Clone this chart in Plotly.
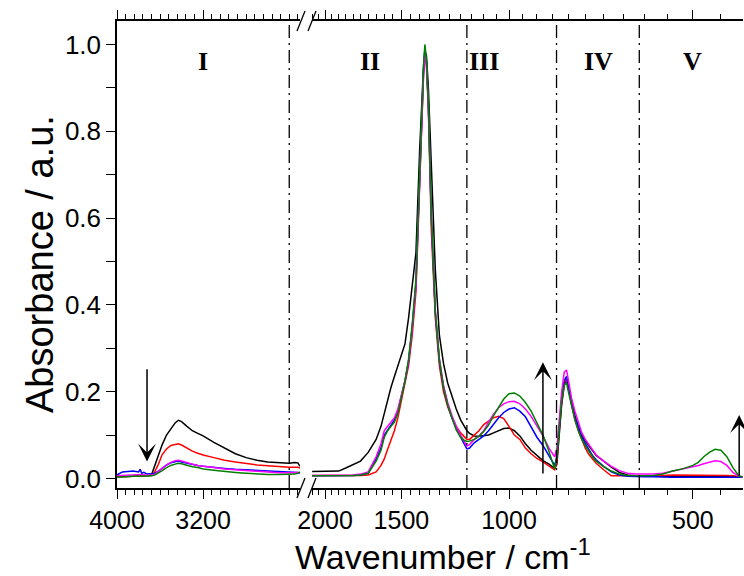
import math
import plotly.graph_objects as go

# ---------------- data ----------------
NU_L = [4000, 3950, 3900, 3850, 3800, 3785, 3770, 3750,
        3720, 3700, 3680, 3650, 3620, 3580, 3540, 3500,
        3460, 3430, 3400, 3350, 3300, 3250, 3200, 3100,
        3000, 2900, 2800, 2700, 2600, 2500, 2400, 2350,
        2320, 2300]

BLACK_L = [0.004, 0.004, 0.005, 0.005, 0.006, 0.007, 0.006, 0.006,
           0.006, 0.007, 0.008, 0.030, 0.053, 0.078, 0.100, 0.115,
           0.128, 0.134, 0.131, 0.120, 0.110, 0.104, 0.098, 0.083,
           0.069, 0.057, 0.048, 0.042, 0.038, 0.036, 0.035, 0.037,
           0.036, 0.028]
RED_L = [0.004, 0.004, 0.005, 0.005, 0.006, 0.007, 0.006, 0.006,
         0.006, 0.006, 0.007, 0.015, 0.030, 0.055, 0.068, 0.076,
         0.079, 0.080, 0.077, 0.070, 0.063, 0.058, 0.054, 0.048,
         0.042, 0.038, 0.034, 0.031, 0.029, 0.027, 0.026, 0.026,
         0.026, 0.024]
BLUE_L = [0.008, 0.015, 0.016, 0.017, 0.015, 0.021, 0.012, 0.014,
          0.010, 0.011, 0.010, 0.012, 0.016, 0.024, 0.031, 0.036,
          0.039, 0.040, 0.038, 0.035, 0.032, 0.030, 0.028, 0.025,
          0.023, 0.021, 0.020, 0.019, 0.018, 0.017, 0.016, 0.015,
          0.014, 0.012]
MAGENTA_L = [0.006, 0.007, 0.008, 0.008, 0.009, 0.010, 0.009, 0.008,
             0.008, 0.008, 0.008, 0.010, 0.015, 0.023, 0.031, 0.037,
             0.041, 0.042, 0.040, 0.036, 0.033, 0.030, 0.028, 0.025,
             0.022, 0.020, 0.018, 0.016, 0.014, 0.013, 0.013, 0.013,
             0.013, 0.014]
GREEN_L = [0.003, 0.004, 0.004, 0.005, 0.005, 0.006, 0.005, 0.005,
           0.005, 0.006, 0.006, 0.008, 0.012, 0.018, 0.025, 0.030,
           0.033, 0.035, 0.034, 0.030, 0.027, 0.025, 0.022, 0.019,
           0.016, 0.014, 0.012, 0.010, 0.009, 0.009, 0.009, 0.010,
           0.012, 0.015]

NU_R = [2100, 2000, 1900, 1850, 1800, 1750, 1700,
        1650, 1620, 1600, 1580, 1560, 1540, 1520, 1500,
        1480, 1460, 1440, 1420, 1400, 1390, 1380, 1373,
        1365, 1355, 1340, 1320, 1300, 1280, 1260, 1240,
        1220, 1200, 1185, 1172, 1160, 1140, 1120, 1100,
        1080, 1060, 1040, 1020, 1000, 980, 960, 940,
        920, 900, 880, 860, 850, 842, 835, 828,
        820, 812, 805, 798, 790, 780, 770, 760,
        750, 740, 730, 720, 700, 680, 660, 640,
        620, 600, 580, 560, 540, 520, 500, 490,
        480, 470, 460, 450, 440, 430, 420, 415]

BLACK_R = [0.016, 0.016, 0.017, 0.024, 0.032, 0.040, 0.060,
           0.090, 0.120, 0.150, 0.180, 0.210, 0.235, 0.260, 0.280,
           0.310, 0.370, 0.440, 0.520, 0.760, 0.870, 0.950, 0.985,
           0.975, 0.900, 0.700, 0.480, 0.330, 0.265, 0.220, 0.190,
           0.160, 0.135, 0.120, 0.110, 0.104, 0.098, 0.097, 0.098,
           0.100, 0.105, 0.110, 0.115, 0.116, 0.110, 0.098, 0.080,
           0.065, 0.053, 0.041, 0.033, 0.028, 0.023, 0.032, 0.090,
           0.170, 0.215, 0.228, 0.205, 0.175, 0.145, 0.120, 0.100,
           0.086, 0.075, 0.063, 0.053, 0.040, 0.026, 0.014, 0.008,
           0.006, 0.005, 0.005, 0.005, 0.005, 0.005, 0.005, 0.005,
           0.005, 0.005, 0.005, 0.005, 0.004, 0.004, 0.004, 0.004]
RED_R = [0.007, 0.007, 0.006, 0.006, 0.007, 0.007, 0.008,
         0.015, 0.030, 0.045, 0.067, 0.090, 0.110, 0.140, 0.180,
         0.220, 0.260, 0.330, 0.430, 0.680, 0.820, 0.930, 0.975,
         0.955, 0.850, 0.570, 0.370, 0.260, 0.200, 0.165, 0.140,
         0.120, 0.105, 0.097, 0.090, 0.090, 0.100, 0.110, 0.124,
         0.133, 0.140, 0.143, 0.138, 0.120, 0.100, 0.090, 0.070,
         0.057, 0.046, 0.038, 0.028, 0.024, 0.020, 0.040, 0.100,
         0.175, 0.220, 0.228, 0.200, 0.170, 0.135, 0.110, 0.090,
         0.070, 0.055, 0.045, 0.035, 0.020, 0.006, 0.006, 0.006,
         0.007, 0.007, 0.007, 0.007, 0.008, 0.008, 0.008, 0.008,
         0.008, 0.008, 0.008, 0.008, 0.007, 0.006, 0.004, 0.004]
BLUE_R = [0.006, 0.006, 0.006, 0.006, 0.007, 0.008, 0.012,
          0.045, 0.070, 0.100, 0.113, 0.123, 0.135, 0.155, 0.190,
          0.225, 0.270, 0.350, 0.450, 0.700, 0.830, 0.940, 0.990,
          0.960, 0.860, 0.600, 0.380, 0.270, 0.210, 0.170, 0.140,
          0.115, 0.095, 0.080, 0.068, 0.070, 0.082, 0.090, 0.098,
          0.110, 0.125, 0.140, 0.152, 0.160, 0.163, 0.155, 0.142,
          0.118, 0.095, 0.076, 0.050, 0.040, 0.030, 0.050, 0.110,
          0.180, 0.225, 0.235, 0.205, 0.170, 0.140, 0.115, 0.095,
          0.080, 0.065, 0.053, 0.043, 0.028, 0.015, 0.008, 0.005,
          0.004, 0.004, 0.004, 0.003, 0.003, 0.003, 0.003, 0.003,
          0.003, 0.003, 0.003, 0.003, 0.003, 0.003, 0.003, 0.003]
MAGENTA_R = [0.007, 0.007, 0.007, 0.007, 0.008, 0.010, 0.015,
             0.050, 0.080, 0.110, 0.120, 0.130, 0.140, 0.160, 0.190,
             0.225, 0.270, 0.345, 0.445, 0.690, 0.820, 0.930, 0.980,
             0.955, 0.855, 0.600, 0.385, 0.275, 0.215, 0.175, 0.145,
             0.120, 0.100, 0.085, 0.075, 0.078, 0.090, 0.098, 0.110,
             0.130, 0.148, 0.163, 0.172, 0.177, 0.178, 0.172, 0.160,
             0.143, 0.120, 0.098, 0.070, 0.058, 0.050, 0.070, 0.130,
             0.200, 0.245, 0.250, 0.220, 0.185, 0.155, 0.128, 0.105,
             0.090, 0.078, 0.065, 0.054, 0.040, 0.028, 0.018, 0.012,
             0.010, 0.010, 0.010, 0.012, 0.017, 0.021, 0.026, 0.030,
             0.034, 0.038, 0.041, 0.039, 0.030, 0.014, 0.005, 0.004]
GREEN_R = [0.006, 0.006, 0.006, 0.006, 0.007, 0.008, 0.012,
           0.040, 0.065, 0.095, 0.110, 0.120, 0.130, 0.150, 0.185,
           0.225, 0.275, 0.355, 0.460, 0.710, 0.840, 0.950, 1.000,
           0.965, 0.865, 0.610, 0.385, 0.275, 0.210, 0.170, 0.140,
           0.112, 0.095, 0.088, 0.085, 0.086, 0.090, 0.097, 0.108,
           0.123, 0.145, 0.165, 0.183, 0.195, 0.197, 0.190, 0.175,
           0.155, 0.127, 0.100, 0.062, 0.038, 0.022, 0.050, 0.110,
           0.180, 0.215, 0.220, 0.195, 0.165, 0.135, 0.110, 0.090,
           0.075, 0.062, 0.050, 0.040, 0.027, 0.017, 0.010, 0.007,
           0.006, 0.006, 0.007, 0.010, 0.017, 0.022, 0.030, 0.037,
           0.050, 0.060, 0.067, 0.065, 0.050, 0.025, 0.005, 0.004]

SERIES = [("black", BLACK_L, BLACK_R), ("#ff0000", RED_L, RED_R),
          ("#0000ff", BLUE_L, BLUE_R), ("#ff00ff", MAGENTA_L, MAGENTA_R),
          ("#008000", GREEN_L, GREEN_R)]

# ticks
XL_TICKS = [4000, 3200]
XL_TICKTEXT = ["4000", "3200"]
XL_MINOR = [v for v in range(4000, 2299, -80) if v not in XL_TICKS]
XR_TICKS = [2000, 1500, 1000, 500]
XR_TICKTEXT = ["2000", "1500", "1000", "500"]
XR_MINOR = [v for v in range(2100, 414, -50) if v not in XR_TICKS]
Y_TICKS = [0.0, 0.2, 0.4, 0.6, 0.8, 1.0]
Y_TICKTEXT = ["0.0", "0.2", "0.4", "0.6", "0.8", "1.0"]
Y_MINOR = [0.1, 0.3, 0.5, 0.7, 0.9]

# region separators and labels
SEP_L = [2400]
SEP_R = [1172, 836, 612]
REGION_LABELS = ["I", "II", "III", "IV", "V"]
REGION_POS = [3200, 1689, 1099, 714, 500]
REGION_Y = 0.96

# trend arrows: (panel, wavenumber, tail value, head value)
ARROWS = [("L", 3721, 0.255, 0.039), ("R", 880, 0.008, 0.268), ("R", 420, 0.003, 0.146)]

# ---------------- layout geometry ----------------
W, H = 744, 576
ML, MR, MT, MB = 117, 1, 21, 88
PW, PH = W - ML - MR, H - MT - MB
LEFT_RANGE = [4000, 2300]
RIGHT_RANGE = [math.log10(2101), math.log10(414)]
Y_RANGE = [-0.022, 1.054]
DOM1 = [0, 183 / PW]
DOM2 = [195 / PW, 1]

def pxx(px):
    return (px - ML) / PW

def pxy(py):
    return (H - MB - py) / PH

FONT = "Liberation Sans, Arial, sans-serif"
SERIF = "Liberation Serif, Times New Roman, serif"

fig = go.Figure()
for color, yl, yr in SERIES:
    fig.add_trace(go.Scatter(x=NU_L, y=yl, xaxis="x", yaxis="y", mode="lines",
                             line=dict(color=color, width=1.5), showlegend=False))
    fig.add_trace(go.Scatter(x=NU_R, y=yr, xaxis="x2", yaxis="y", mode="lines",
                             line=dict(color=color, width=1.5), showlegend=False))

DASH = "13px,5px,2px,5px"
for v in SEP_L:
    fig.add_trace(go.Scatter(x=[v, v], y=Y_RANGE, xaxis="x", yaxis="y", mode="lines",
                             line=dict(color="black", width=1.3, dash=DASH), showlegend=False))
for v in SEP_R:
    fig.add_trace(go.Scatter(x=[v, v], y=Y_RANGE, xaxis="x2", yaxis="y", mode="lines",
                             line=dict(color="black", width=1.3, dash=DASH), showlegend=False))

xtickfont = dict(family=FONT, size=25, color="black")
ytickfont = dict(family=FONT, size=26, color="black")
common = dict(showline=True, linecolor="black", linewidth=1.5, showgrid=False,
              zeroline=False, tickcolor="black", tickwidth=1.3)

fig.update_layout(
    width=W, height=H, margin=dict(l=ML, r=MR, t=MT, b=MB),
    plot_bgcolor="white", paper_bgcolor="white", showlegend=False,
    xaxis=dict(domain=DOM1, range=LEFT_RANGE, anchor="y", ticks="outside", ticklen=9,
               mirror="allticks",
               tickmode="array", tickvals=XL_TICKS, ticktext=XL_TICKTEXT, tickfont=xtickfont,
               minor=dict(tickmode="array", tickvals=XL_MINOR, ticks="outside", ticklen=5,
                          tickcolor="black", tickwidth=1.2), **common),
    xaxis2=dict(domain=DOM2, type="log", range=RIGHT_RANGE, anchor="y", ticks="outside",
                ticklen=9, mirror="allticks",
                tickmode="array", tickvals=XR_TICKS, ticktext=XR_TICKTEXT,
                tickfont=xtickfont,
                minor=dict(tickmode="array", tickvals=XR_MINOR, ticks="outside", ticklen=5,
                           tickcolor="black", tickwidth=1.2), **common),
    yaxis=dict(domain=[0, 1], range=Y_RANGE, anchor="x", ticks="outside", ticklen=9,
               tickmode="array", tickvals=Y_TICKS, ticktext=Y_TICKTEXT, tickfont=ytickfont,
               minor=dict(tickmode="array", tickvals=Y_MINOR, ticks="outside", ticklen=9,
                          tickcolor="black", tickwidth=1.3), **common),
)

annotations = []
for lab, pos in zip(REGION_LABELS, REGION_POS):
    if pos > 2200:
        annotations.append(dict(x=pos, y=REGION_Y, xref="x", yref="y", text=f"<b>{lab}</b>",
                                showarrow=False, font=dict(family=SERIF, size=26, color="black")))
    else:
        annotations.append(dict(x=math.log10(pos), y=REGION_Y, xref="x2", yref="y",
                                text=f"<b>{lab}</b>", showarrow=False,
                                font=dict(family=SERIF, size=26, color="black")))

arrow_kw = dict(text="", showarrow=True, arrowhead=3, arrowsize=2.0, arrowwidth=1.5,
                arrowcolor="black", standoff=0, startstandoff=0)
for panel, nu, y0, y1 in ARROWS:
    if panel == "L":
        annotations.append(dict(x=nu, y=y1, ax=nu, ay=y0, xref="x", yref="y",
                                axref="x", ayref="y", **arrow_kw))
    else:
        annotations.append(dict(x=math.log10(nu), y=y1, ax=math.log10(nu), ay=y0,
                                xref="x2", yref="y", axref="x2", ayref="y", **arrow_kw))

# axis titles
annotations.append(dict(x=pxx(443), y=pxy(554), xref="paper", yref="paper",
                        text="Wavenumber / cm<sup>-1</sup>", showarrow=False,
                        xanchor="center", yanchor="middle",
                        font=dict(family=FONT, size=34, color="black")))
annotations.append(dict(x=pxx(40), y=pxy(264), xref="paper", yref="paper",
                        text="Absorbance / a.u.", showarrow=False, textangle=-90,
                        xanchor="center", yanchor="middle",
                        font=dict(family=FONT, size=38, color="black")))
fig.update_layout(annotations=annotations)

# axis-break marks
shapes = []
for yc in (MT, H - MB):
    for x0 in (297, 308):
        shapes.append(dict(type="line", xref="paper", yref="paper",
                           x0=pxx(x0), y0=pxy(yc + 10), x1=pxx(x0 + 8), y1=pxy(yc - 10),
                           line=dict(color="black", width=1.3)))
fig.update_layout(shapes=shapes)

fig.write_html("out.html")
